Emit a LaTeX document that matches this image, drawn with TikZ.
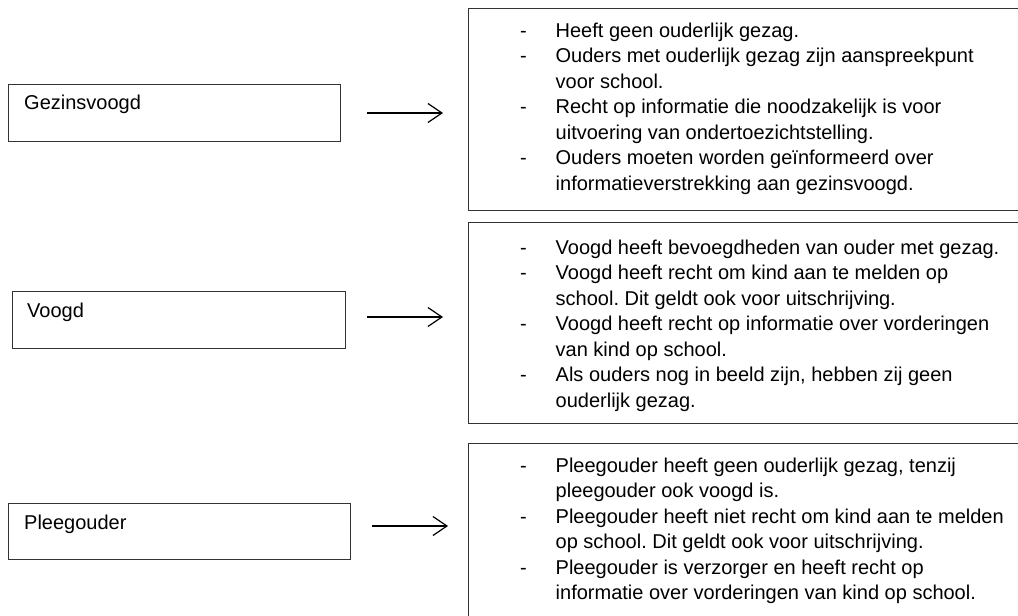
\documentclass[tikz,border=0pt]{standalone}
\usepackage{fontspec}
\setmainfont{Liberation Sans}
\usetikzlibrary{arrows.meta}
\definecolor{boxline}{HTML}{333333}
\definecolor{ink}{HTML}{000000}
\frenchspacing
\tikzset{
  lbox/.style={draw=boxline, line width=1.4pt, rectangle, inner sep=0pt, anchor=north west},
  rbox/.style={draw=boxline, line width=1.4pt, rectangle, inner sep=0pt, anchor=north west},
  ltext/.style={anchor=base west, inner sep=0pt, text=ink, font=\fontsize{20}{25.5}\selectfont},
  rtext/.style={anchor=base west, inner sep=0pt, text=ink, font=\fontsize{20}{25.5}\selectfont},
  conn/.style={draw=ink, line width=1.2pt, -{Straight Barb[length=14pt,width=19pt,line width=1.2pt]}}
}
\newcommand{\itemtab}[1]{\begin{tabular}[t]{@{}p{35.5pt}@{}l@{}}#1\end{tabular}}
\begin{document}
\begin{tikzpicture}[x=1pt,y=-1pt]
\useasboundingbox (0,0) rectangle (1018,616);
% left boxes
\node[lbox, minimum width=332pt, minimum height=57pt] (gezin) at (8,84) {};
\node[lbox, minimum width=333pt, minimum height=57pt] (voogd) at (12,291) {};
\node[lbox, minimum width=342pt, minimum height=56pt] (pleeg) at (8,503) {};
\node[ltext] (gezinT) at (24,109) {Gezinsvoogd};
\node[ltext] (voogdT) at (27,317) {Voogd};
\node[ltext] (pleegT) at (24,529) {Pleegouder};
% right boxes (run off the right/bottom edge)
\node[rbox, minimum width=570pt, minimum height=202pt] (r1) at (468,8) {};
\node[rbox, minimum width=570pt, minimum height=201pt] (r2) at (468,222) {};
\node[rbox, minimum width=570pt, minimum height=200pt] (r3) at (468,443) {};
\node[rtext] (t1) at (520,37) {\itemtab{%
- & Heeft geen ouderlijk gezag.\\
- & Ouders met ouderlijk gezag zijn aanspreekpunt\\
  & voor school.\\
- & Recht op informatie die noodzakelijk is voor\\
  & uitvoering van ondertoezichtstelling.\\
- & Ouders moeten worden geïnformeerd over\\
  & informatieverstrekking aan gezinsvoogd.}};
\node[rtext] (t2) at (520,254) {\itemtab{%
- & Voogd heeft bevoegdheden van ouder met gezag.\\
- & Voogd heeft recht om kind aan te melden op\\
  & school. Dit geldt ook voor uitschrijving.\\
- & Voogd heeft recht op informatie over vorderingen\\
  & van kind op school.\\
- & Als ouders nog in beeld zijn, hebben zij geen\\
  & ouderlijk gezag.}};
\node[rtext] (t3) at (520,472) {\itemtab{%
- & Pleegouder heeft geen ouderlijk gezag, tenzij\\
  & pleegouder ook voogd is.\\
- & Pleegouder heeft niet recht om kind aan te melden\\
  & op school. Dit geldt ook voor uitschrijving.\\
- & Pleegouder is verzorger en heeft recht op\\
  & informatie over vorderingen van kind op school.}};
% arrows
\coordinate (a1s) at (367,113); \coordinate (a1e) at (443,113);
\coordinate (a2s) at (367,317); \coordinate (a2e) at (443,317);
\coordinate (a3s) at (372,526); \coordinate (a3e) at (448,526);
\draw[conn] (a1s) -- (a1e);
\draw[conn] (a2s) -- (a2e);
\draw[conn] (a3s) -- (a3e);
\end{tikzpicture}
\end{document}
